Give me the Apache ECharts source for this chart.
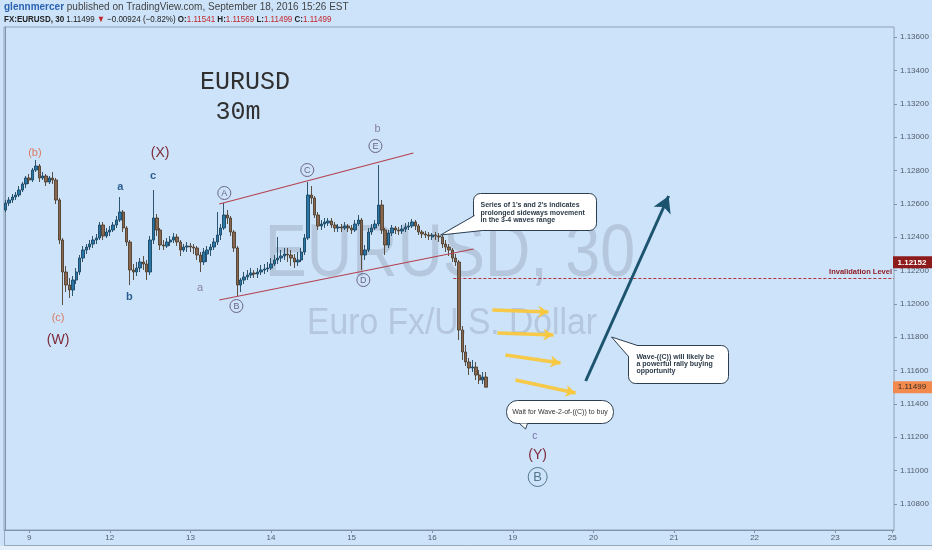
<!DOCTYPE html>
<html><head><meta charset="utf-8">
<script src="https://cdn.jsdelivr.net/npm/echarts@6/dist/echarts.min.js"></script>
<style>html,body{margin:0;padding:0;background:#cde3f9;} #c{width:932px;height:550px;}</style>
</head><body><div id="c"></div>
<script>
// ---- hourly candles (bar index 0 = Sep 8 17:00 EST) ----
const opens = [
1.12562,1.12604,1.12622,1.12640,1.12652,1.12682,1.12718,1.12754,1.12742,1.12802,
1.12826,1.12754,1.12766,1.12730,1.12754,1.12742,1.12622,1.12382,1.12190,1.12112,
1.12082,1.12142,1.12190,1.12274,1.12322,1.12340,1.12358,1.12382,1.12394,1.12472,
1.12406,1.12430,1.12442,1.12472,1.12502,1.12550,1.12454,1.12370,1.12202,1.12190,
1.12214,1.12250,1.12238,1.12190,1.12382,1.12514,1.12442,1.12352,1.12346,1.12370,
1.12382,1.12400,1.12370,1.12322,1.12340,1.12346,1.12340,1.12334,1.12292,1.12250,
1.12298,1.12322,1.12340,1.12370,1.12412,1.12454,1.12532,1.12514,1.12430,1.12334,
1.12112,1.12142,1.12160,1.12172,1.12184,1.12178,1.12190,1.12202,1.12208,1.12214,
1.12238,1.12262,1.12274,1.12286,1.12298,1.12292,1.12274,1.12250,1.12262,1.12310,
1.12394,1.12652,1.12634,1.12532,1.12466,1.12478,1.12484,1.12496,1.12472,1.12454,
1.12460,1.12454,1.12466,1.12454,1.12442,1.12478,1.12502,1.12292,1.12322,1.12430,
1.12454,1.12478,1.12592,1.12442,1.12352,1.12424,1.12454,1.12442,1.12436,1.12448,
1.12460,1.12466,1.12490,1.12466,1.12430,1.12418,1.12412,1.12400,1.12412,1.12406,
1.12400,1.12358,1.12340,1.12322,1.12274,1.12250,1.11842,1.11710,1.11650,1.11614,
1.11620,1.11572,1.11542,1.11560];
const closes = [
1.12604,1.12622,1.12640,1.12652,1.12682,1.12718,1.12754,1.12742,1.12802,1.12826,
1.12754,1.12766,1.12730,1.12754,1.12742,1.12622,1.12382,1.12190,1.12112,1.12082,
1.12142,1.12190,1.12274,1.12322,1.12340,1.12358,1.12382,1.12394,1.12472,1.12406,
1.12430,1.12442,1.12472,1.12502,1.12550,1.12454,1.12370,1.12202,1.12190,1.12214,
1.12250,1.12238,1.12190,1.12382,1.12514,1.12442,1.12352,1.12346,1.12370,1.12382,
1.12400,1.12370,1.12322,1.12340,1.12346,1.12340,1.12334,1.12292,1.12250,1.12310,
1.12322,1.12340,1.12370,1.12412,1.12454,1.12532,1.12514,1.12430,1.12334,1.12112,
1.12142,1.12160,1.12172,1.12184,1.12178,1.12190,1.12202,1.12208,1.12214,1.12238,
1.12262,1.12274,1.12286,1.12298,1.12292,1.12274,1.12250,1.12262,1.12310,1.12394,
1.12652,1.12634,1.12532,1.12466,1.12478,1.12490,1.12496,1.12472,1.12454,1.12460,
1.12454,1.12466,1.12454,1.12442,1.12478,1.12502,1.12292,1.12322,1.12430,1.12454,
1.12478,1.12592,1.12442,1.12352,1.12424,1.12454,1.12442,1.12436,1.12448,1.12460,
1.12466,1.12490,1.12466,1.12430,1.12418,1.12412,1.12406,1.12412,1.12406,1.12400,
1.12358,1.12340,1.12322,1.12274,1.12250,1.11842,1.11710,1.11650,1.11614,1.11620,
1.11572,1.11542,1.11560,1.11499];
const lows = [
1.12550,1.12586,1.12604,1.12622,1.12640,1.12670,1.12694,1.12718,1.12730,1.12790,
1.12730,1.12742,1.12706,1.12718,1.12718,1.12598,1.12358,1.11992,1.12070,1.12034,
1.12046,1.12118,1.12172,1.12250,1.12298,1.12322,1.12334,1.12358,1.12382,1.12382,
1.12394,1.12406,1.12430,1.12454,1.12490,1.12430,1.12346,1.12112,1.12142,1.12166,
1.12190,1.12202,1.12142,1.12172,1.12358,1.12406,1.12322,1.12322,1.12334,1.12346,
1.12364,1.12346,1.12286,1.12310,1.12310,1.12310,1.12298,1.12262,1.12190,1.12232,
1.12250,1.12286,1.12322,1.12352,1.12382,1.12442,1.12478,1.12406,1.12310,1.12046,
1.12070,1.12118,1.12142,1.12154,1.12154,1.12154,1.12172,1.12178,1.12190,1.12202,
1.12226,1.12238,1.12250,1.12262,1.12250,1.12226,1.12214,1.12226,1.12250,1.12292,
1.12382,1.12598,1.12514,1.12442,1.12442,1.12454,1.12466,1.12454,1.12430,1.12430,
1.12430,1.12442,1.12430,1.12418,1.12430,1.12466,1.12202,1.12262,1.12310,1.12412,
1.12442,1.12466,1.12418,1.12292,1.12334,1.12406,1.12418,1.12412,1.12418,1.12430,
1.12442,1.12454,1.12442,1.12412,1.12394,1.12394,1.12382,1.12382,1.12382,1.12370,
1.12334,1.12310,1.12286,1.12250,1.12226,1.11782,1.11662,1.11626,1.11572,1.11590,
1.11542,1.11518,1.11518,1.11499];
const highs = [
1.12622,1.12640,1.12658,1.12670,1.12706,1.12730,1.12766,1.12778,1.12814,1.12862,
1.12838,1.12790,1.12778,1.12766,1.12790,1.12754,1.12634,1.12394,1.12226,1.12154,
1.12166,1.12214,1.12292,1.12346,1.12358,1.12382,1.12406,1.12418,1.12490,1.12490,
1.12454,1.12466,1.12490,1.12526,1.12640,1.12562,1.12466,1.12382,1.12238,1.12250,
1.12274,1.12286,1.12262,1.12406,1.12682,1.12538,1.12454,1.12382,1.12394,1.12406,
1.12424,1.12418,1.12382,1.12358,1.12370,1.12364,1.12358,1.12346,1.12310,1.12334,
1.12346,1.12358,1.12394,1.12550,1.12478,1.12604,1.12562,1.12526,1.12442,1.12346,
1.12154,1.12190,1.12202,1.12214,1.12202,1.12214,1.12232,1.12238,1.12250,1.12274,
1.12292,1.12400,1.12322,1.12334,1.12334,1.12322,1.12298,1.12310,1.12334,1.12418,
1.12730,1.12706,1.12646,1.12550,1.12502,1.12514,1.12514,1.12514,1.12490,1.12478,
1.12478,1.12490,1.12478,1.12472,1.12502,1.12532,1.12514,1.12352,1.12454,1.12478,
1.12502,1.12832,1.12622,1.12454,1.12442,1.12472,1.12466,1.12460,1.12472,1.12484,
1.12490,1.12508,1.12502,1.12478,1.12442,1.12436,1.12430,1.12424,1.12430,1.12424,
1.12412,1.12382,1.12358,1.12334,1.12298,1.12262,1.11866,1.11752,1.11674,1.11662,
1.11650,1.11602,1.11590,1.11590];

// ---- axes ----
const tickBars   = [7, 31, 55, 79, 103, 127, 151, 175, 199, 223, 247, 264];
const tickLabels = ['9','12','13','14','15','16','19','20','21','22','23','25'];
const priceTicks = [1.108,1.110,1.112,1.114,1.116,1.118,1.120,1.122,1.124,1.126,1.128,1.130,1.132,1.134,1.136];
const lastPrice = 1.11499;
const invalidationPrice = 1.12152;

// ---- annotations (bar index, price) ----
const waveLabels = [
  ['(b)', 8.7, 1.12904, 'orange'], ['(c)', 15.6, 1.11914, 'orange'], ['(W)', 15.6, 1.11782, 'major'],
  ['a', 34.1, 1.12700, 'minute'], ['b', 36.8, 1.12040, 'minute'], ['c', 43.9, 1.12766, 'minute'],
  ['(X)', 46.0, 1.12904, 'major'], ['a', 57.9, 1.12094, 'gray'], ['b', 110.7, 1.13048, 'gray'],
  ['c', 157.5, 1.11206, 'purple'], ['(Y)', 158.4, 1.11092, 'major']
];
const circledLabels = [['A', 65.1, 1.12664], ['B', 68.7, 1.11986], ['C', 89.8, 1.12802], ['D', 106.5, 1.12142], ['E', 110.1, 1.12946]];
const bigCircled = ['B', 158.4, 1.10960];
const triangleLines = [[[63.6, 1.12598], [121.4, 1.12904]], [[63.6, 1.12022], [139.3, 1.12328]]];
const sidewaysArrows = [
  [[144.9, 1.11962], [161.6, 1.11950]], [[146.4, 1.11824], [163.1, 1.11812]],
  [[148.8, 1.11692], [165.2, 1.11644]], [[151.8, 1.11542], [169.7, 1.11464]]
];
const rallyArrow = [[172.7, 1.11536], [197.4, 1.12646]];
const invalidationFrom = 133.3;
const callouts = [
  {box: [139.0, 1.12664], tip: [129.5, 1.12412],
   lines: ["Series of 1's and 2's indicates", 'prolonged sideways movement', 'in the 3-4 waves range']},
  {box: [185.2, 1.11752], tip: [180.4, 1.11800],
   lines: ['Wave-((C)) will likely be', 'a powerful rally buying', 'opportunity']},
  {box: [149.1, 1.11422], tip: [154.8, 1.11248],
   lines: ['Wait for Wave-2-of-((C)) to buy']}
];

const chart = echarts.init(document.getElementById('c'), null, {renderer: 'canvas'});
const candleData = opens.map((o, i) => [i, o, closes[i], lows[i], highs[i]]);
const pair = (a, b) => [{coord: a}, {coord: b}];

const option = {
  animation: false,
  backgroundColor: '#cde3f9',
  grid: {left: 4, right: 38, top: 27, bottom: 20, show: true, borderColor: '#8ea2b6', borderWidth: 1, backgroundColor: 'transparent'},
  xAxis: {
    type: 'value', min: -0.5, max: 264.5,
    axisLine: {show: true, lineStyle: {color: '#7f93a8'}},
    axisTick: {show: true, length: 3, lineStyle: {color: '#7f93a8'}, customValues: tickBars},
    axisLabel: {customValues: tickBars, fontSize: 8, color: '#4f5d6b', margin: 4, fontFamily: 'Liberation Sans',
      formatter: v => tickLabels[tickBars.indexOf(Math.round(v))]},
    splitLine: {show: false}
  },
  yAxis: {
    type: 'value', position: 'right', min: 1.10642, max: 1.13660, scale: true,
    axisLine: {show: true, lineStyle: {color: '#7f93a8'}},
    axisTick: {show: false},
    axisLabel: {customValues: priceTicks, fontSize: 8, color: '#4f5d6b', margin: 6, fontFamily: 'Liberation Sans',
      formatter: v => v.toFixed(5)},
    splitLine: {show: false}
  },
  series: [
    {
      type: 'candlestick', data: candleData, encode: {x: 0, y: [1, 2, 3, 4]}, barWidth: 2.9, z: 3,
      itemStyle: {color: '#2877a8', color0: '#876750', borderColor: '#1c4560', borderColor0: '#4f3e2d', borderWidth: 0.9}
    },
    {
      type: 'line', data: [], silent: true,
      markLine: {silent: true, animation: false, symbol: ['none', 'none'],
        lineStyle: {color: '#b5414f', width: 1.2, type: 'solid'}, label: {show: false},
        data: triangleLines.map(l => pair(l[0], l[1]))}
    },
    {
      type: 'line', data: [], silent: true,
      markLine: {silent: true, animation: false, symbol: ['none', 'none'],
        lineStyle: {color: '#b0303a', width: 1, type: [3, 2]},
        label: {show: true, position: 'insideEndTop', formatter: 'Invalidation Level', color: '#8e1c25',
          fontSize: 7.5, fontWeight: 'bold', fontFamily: 'Liberation Sans', distance: 2},
        data: [pair([invalidationFrom, invalidationPrice], [264.5, invalidationPrice])]}
    },
    {
      type: 'line', data: [], silent: true,
      markLine: {silent: true, animation: false, symbol: ['none', 'arrow'], symbolSize: [9, 10],
        lineStyle: {color: '#f8c73e', width: 3.5, type: 'solid', opacity: 0.95}, label: {show: false},
        data: sidewaysArrows.map(l => pair(l[0], l[1]))}
    },
    {
      type: 'line', data: [], silent: true,
      markLine: {silent: true, animation: false, symbol: ['none', 'arrow'], symbolSize: [14, 16],
        lineStyle: {color: '#1c5470', width: 3, type: 'solid'}, label: {show: false},
        data: [pair(rallyArrow[0], rallyArrow[1])]}
    }
  ]
};
chart.setOption(option);

const px = (b, p) => chart.convertToPixel({gridIndex: 0}, [b, p]);
const g = [];
// watermark
g.push({type: 'text', z: 0, silent: true, x: 450, y: 256, scaleX: 0.85,
  style: {text: 'EURUSD, 30', x: 0, y: 0, align: 'center', verticalAlign: 'middle',
  font: '74px "Liberation Sans"', fill: 'rgba(145,160,182,0.42)'}});
g.push({type: 'text', z: 0, silent: true, x: 452, y: 324, scaleX: 0.935,
  style: {text: 'Euro Fx/U.S. Dollar', x: 0, y: 0, align: 'center', verticalAlign: 'middle',
  font: '36px "Liberation Sans"', fill: 'rgba(145,160,182,0.42)'}});
// header
g.push({type: 'text', z: 20, style: {x: 4, y: 7, verticalAlign: 'middle',
  text: '{u|glennmercer}{t| published on TradingView.com, September 18, 2016 15:26 EST}',
  rich: {u: {fill: '#2b63b0', fontSize: 10, fontWeight: 'bold', fontFamily: 'Liberation Sans'},
         t: {fill: '#444', fontSize: 10, fontFamily: 'Liberation Sans'}}}});
g.push({type: 'text', z: 20, x: 4, y: 20, scaleX: 0.89, style: {x: 0, y: 0, verticalAlign: 'middle',
  text: '{b|FX:EURUSD, 30}{n| 1.11499 }{r|▼}{n| −0.00924 (−0.82%) }{b|O:}{v|1.11541}{b| H:}{v|1.11569}{b| L:}{v|1.11499}{b| C:}{v|1.11499}',
  rich: {b: {fill: '#222', fontSize: 9, fontWeight: 'bold', fontFamily: 'Liberation Sans'},
         n: {fill: '#222', fontSize: 9, fontFamily: 'Liberation Sans'},
         r: {fill: '#c0262d', fontSize: 9, fontFamily: 'Liberation Sans'},
         v: {fill: '#c0262d', fontSize: 9, fontFamily: 'Liberation Sans'}}}});
// title
g.push({type: 'text', z: 20, style: {text: 'EURUSD', x: 245, y: 82, align: 'center', verticalAlign: 'middle',
  font: '25px "Liberation Mono"', fill: '#303030'}});
g.push({type: 'text', z: 20, style: {text: '30m', x: 238, y: 112, align: 'center', verticalAlign: 'middle',
  font: '25px "Liberation Mono"', fill: '#303030'}});
// wave labels
const waveStyle = {
  orange: {fill: '#dc7a62', size: 11, weight: 'normal'},
  major: {fill: '#7e2a3a', size: 14, weight: 'normal'},
  minute: {fill: '#2c5f93', size: 11, weight: 'bold'},
  gray: {fill: '#8683a8', size: 11, weight: 'normal'},
  purple: {fill: '#7a68a8', size: 10, weight: 'normal'}
};
waveLabels.forEach(w => {
  const p = px(w[1], w[2]); const s = waveStyle[w[3]];
  g.push({type: 'text', z: 20, style: {text: w[0], x: p[0], y: p[1], align: 'center', verticalAlign: 'middle',
    fontSize: s.size, fontWeight: s.weight, fontFamily: 'Liberation Sans', fill: s.fill}});
});
circledLabels.forEach(c => {
  const p = px(c[1], c[2]);
  g.push({type: 'circle', z: 20, shape: {cx: p[0], cy: p[1], r: 6.5}, style: {fill: 'rgba(0,0,0,0)', stroke: '#6c6485', lineWidth: 1}});
  g.push({type: 'text', z: 20, style: {text: c[0], x: p[0], y: p[1] + 0.5, align: 'center', verticalAlign: 'middle',
    fontSize: 9, fontFamily: 'Liberation Sans', fill: '#6c6485'}});
});
{
  const p = px(bigCircled[1], bigCircled[2]);
  g.push({type: 'circle', z: 20, shape: {cx: p[0], cy: p[1], r: 9.5}, style: {fill: 'rgba(0,0,0,0)', stroke: '#55788f', lineWidth: 1}});
  g.push({type: 'text', z: 20, style: {text: bigCircled[0], x: p[0], y: p[1] + 0.5, align: 'center', verticalAlign: 'middle',
    fontSize: 13, fontFamily: 'Liberation Sans', fill: '#55788f'}});
}
// callouts
const calloutGeom = [
  {w: 123, h: 37, r: 7, b1: [1, 22], b2: [9, 37], tx: 7, ty: 8.3, lh: 7.3, align: 'left', bold: true},
  {w: 100, h: 38, r: 7, b1: [9, 0], b2: [0, 11], tx: 8, ty: 7.6, lh: 7.3, align: 'left', bold: true},
  {w: 107, h: 23, r: 11, b1: [13, 23], b2: [21, 23], tx: 53.5, ty: 8, lh: 7.3, align: 'center', bold: false}
];
callouts.forEach((c, i) => {
  const k = calloutGeom[i];
  const b = px(c.box[0], c.box[1]); const t = px(c.tip[0], c.tip[1]);
  const x0 = Math.round(b[0]) + 0.5, y0 = Math.round(b[1]) + 0.5;
  const p1 = [x0 + k.b1[0], y0 + k.b1[1]], p2 = [x0 + k.b2[0], y0 + k.b2[1]];
  g.push({type: 'rect', z: 30, shape: {x: x0, y: y0, width: k.w, height: k.h, r: k.r}, style: {fill: '#ffffff', stroke: '#2c3e50', lineWidth: 1}});
  g.push({type: 'polygon', z: 31, shape: {points: [p1, t, p2]}, style: {fill: '#ffffff'}});
  g.push({type: 'polyline', z: 32, shape: {points: [p1, t, p2]}, style: {fill: null, stroke: '#2c3e50', lineWidth: 1}});
  g.push({type: 'text', z: 33, style: {text: c.lines.join('\n'), x: x0 + k.tx, y: y0 + k.ty, align: k.align, verticalAlign: 'top',
    fontSize: 7, lineHeight: k.lh, fontWeight: k.bold ? 'bold' : 'normal', fontFamily: 'Liberation Sans', fill: k.bold ? '#2b3a48' : '#333'}});
});
// price-scale ticks
priceTicks.forEach(v => {
  const y = Math.round(px(0, v)[1]) + 0.5;
  g.push({type: 'line', z: 6, shape: {x1: 894, y1: y, x2: 897, y2: y}, style: {stroke: '#7f93a8', lineWidth: 1}});
});
// price tags on the axis
{
  const yInv = px(0, invalidationPrice)[1] - 16;
  g.push({type: 'rect', z: 40, shape: {x: 893, y: yInv - 6, width: 39, height: 12}, style: {fill: '#8e1b1b'}});
  g.push({type: 'text', z: 41, style: {text: invalidationPrice.toFixed(5), x: 912, y: yInv, align: 'center', verticalAlign: 'middle',
    fontSize: 8, fontWeight: 'bold', fontFamily: 'Liberation Sans', fill: '#ffffff'}});
  const yLast = px(0, lastPrice)[1];
  g.push({type: 'rect', z: 40, shape: {x: 893, y: yLast - 6, width: 39, height: 12}, style: {fill: '#f28a4e'}});
  g.push({type: 'text', z: 41, style: {text: lastPrice.toFixed(5), x: 912, y: yLast, align: 'center', verticalAlign: 'middle',
    fontSize: 8, fontFamily: 'Liberation Sans', fill: '#3a2a20'}});
}
// frame around the time scale
g.push({type: 'line', z: 5, shape: {x1: 4.5, y1: 545.5, x2: 932, y2: 545.5}, style: {stroke: '#9aa9ba', lineWidth: 1}});
g.push({type: 'line', z: 5, shape: {x1: 4.5, y1: 530, x2: 4.5, y2: 545.5}, style: {stroke: '#9aa9ba', lineWidth: 1}});
g.push({type: 'rect', z: 4, shape: {x: 0, y: 546, width: 932, height: 4}, style: {fill: '#e6f0fa'}});
chart.setOption({graphic: g});
</script></body></html>
